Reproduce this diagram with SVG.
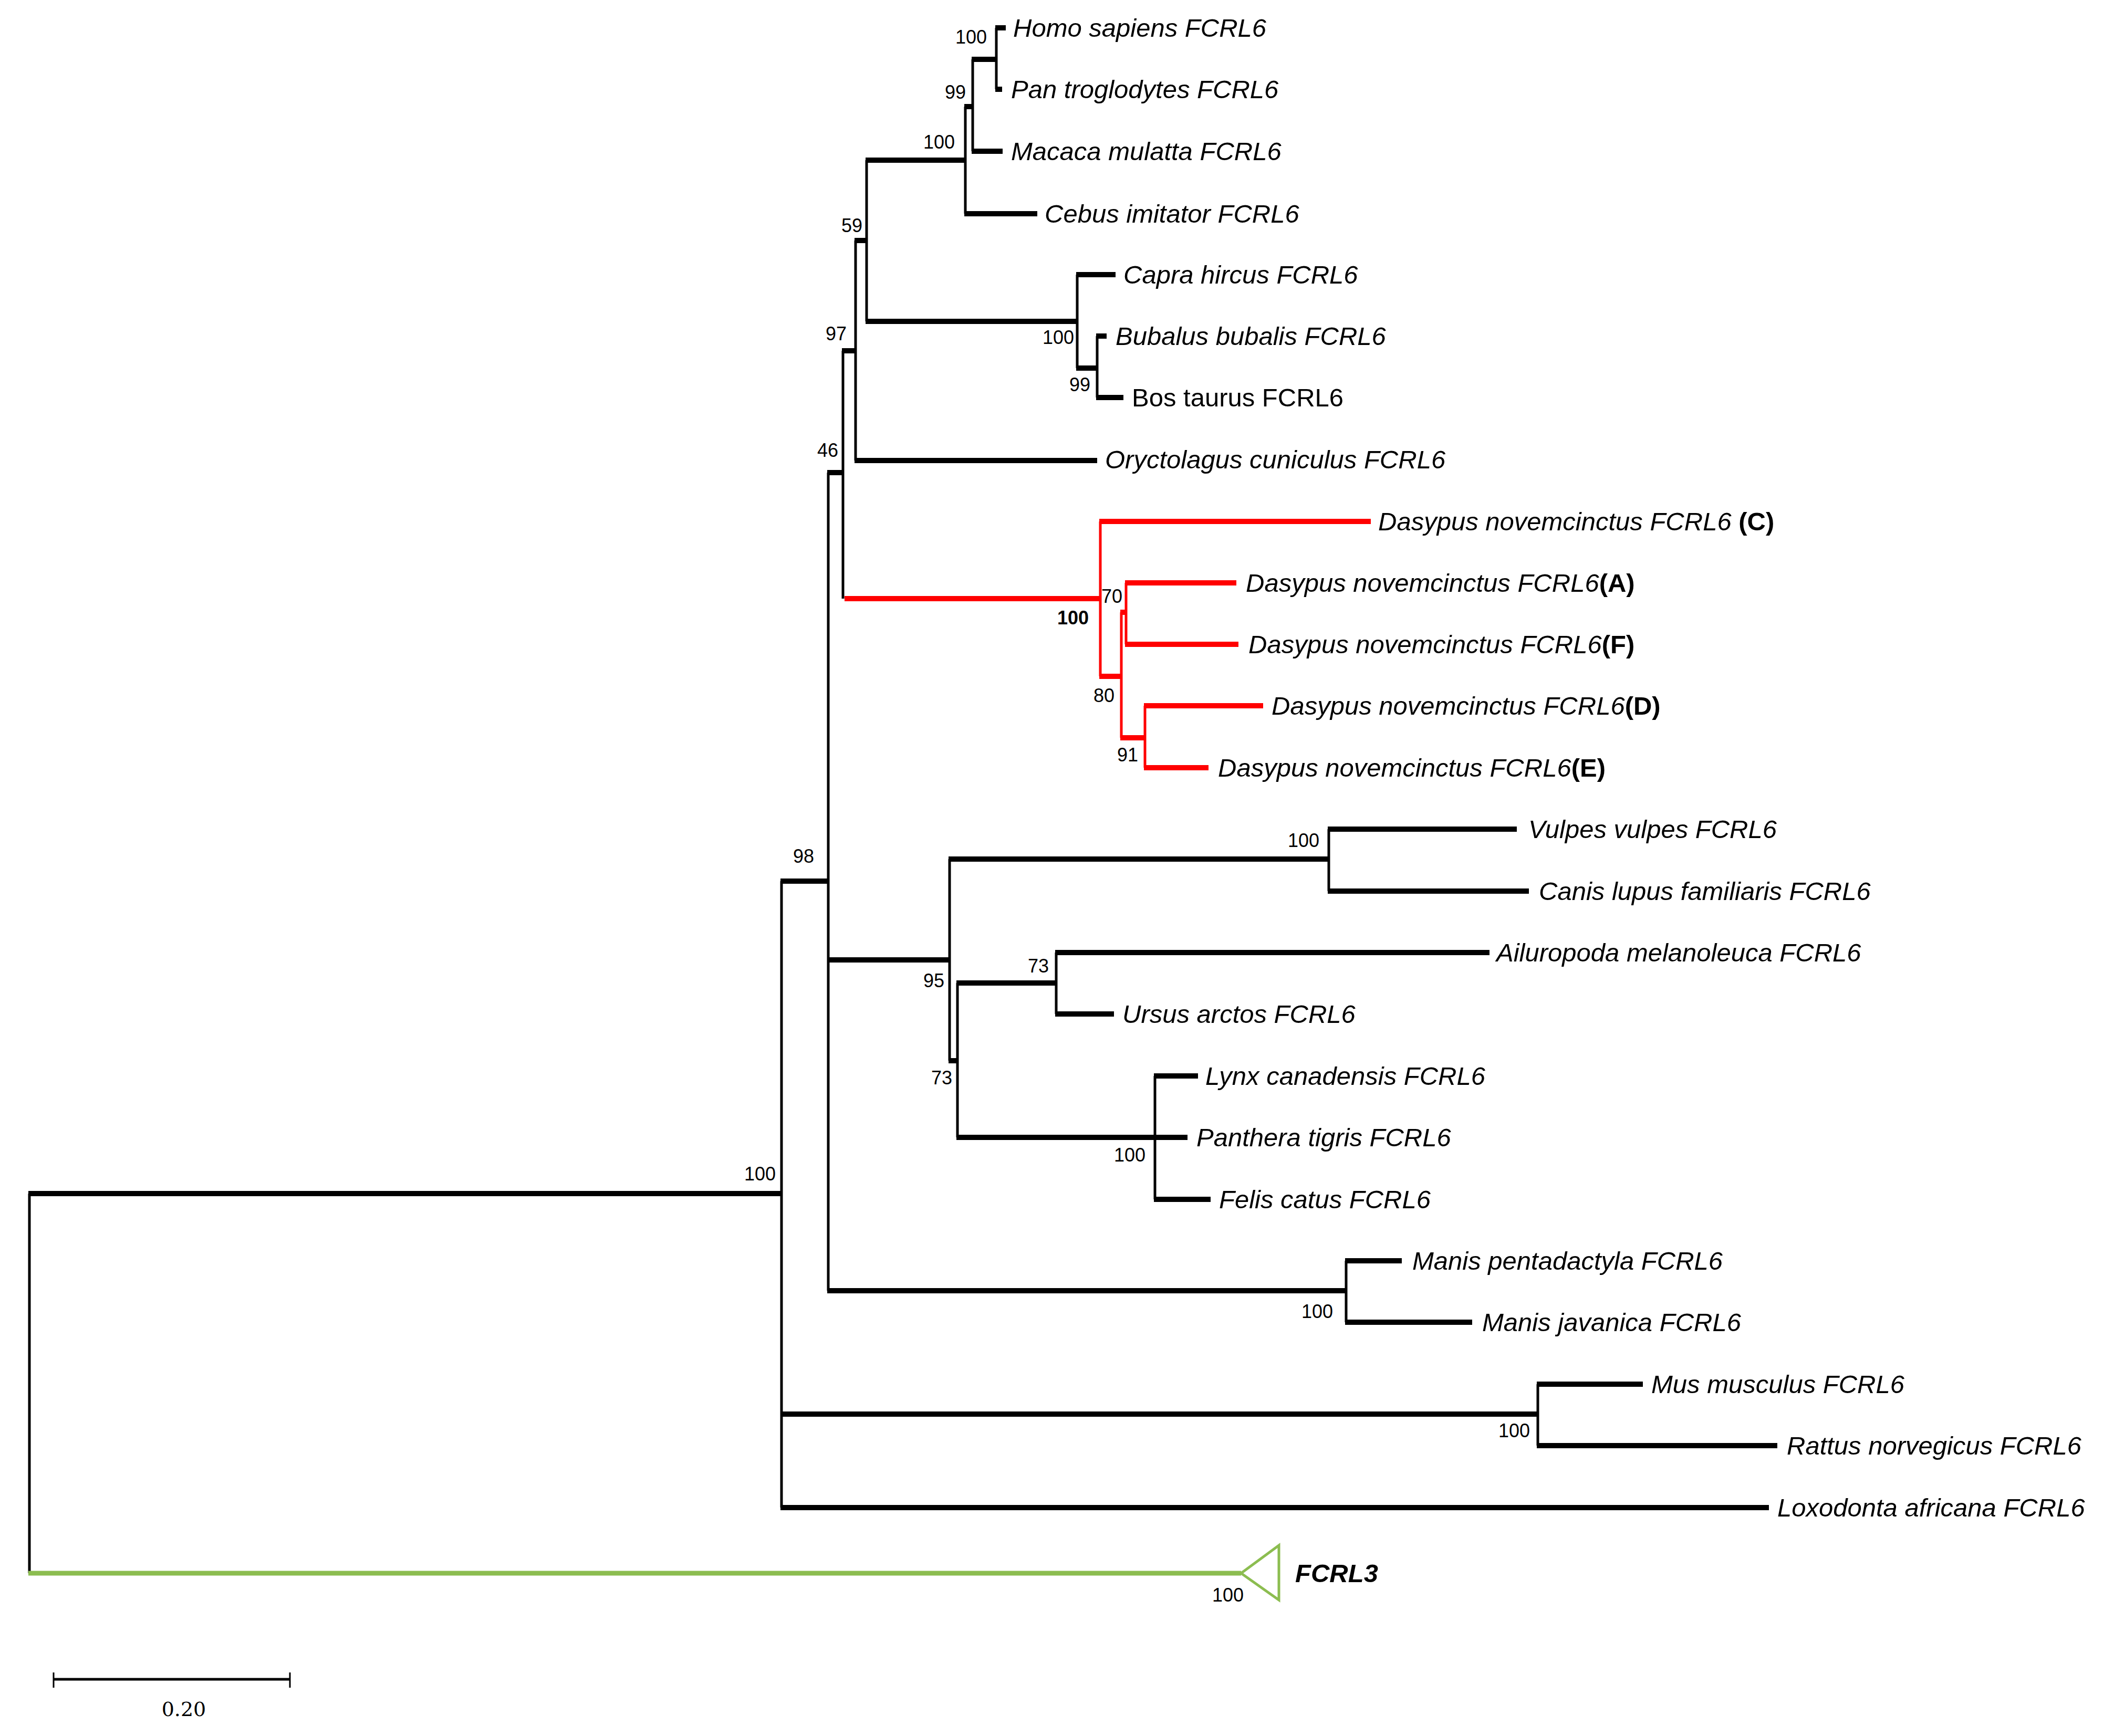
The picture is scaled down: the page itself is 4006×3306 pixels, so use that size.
<svg xmlns="http://www.w3.org/2000/svg" width="4006" height="3306" viewBox="0 0 4006 3306">
<style>
.h{stroke:#000;stroke-width:10;fill:none}
.v{stroke:#000;stroke-width:5;fill:none}
.hr{stroke:#ff0000;stroke-width:10;fill:none}
.vr{stroke:#ff0000;stroke-width:5;fill:none}
.g{stroke:#8cbd50;fill:none}
.tip{font-family:"Liberation Sans",Arial,sans-serif;font-size:49px;font-style:italic;fill:#000}
.up{font-style:normal}
.bs{font-family:"Liberation Sans",Arial,sans-serif;font-size:36px;fill:#000;text-anchor:end}
.b{font-weight:bold;font-style:normal}
</style>
<rect width="4006" height="3306" fill="#fff"/>
<g id="connectors">
<!-- root -->
<path class="v" d="M56 2273V2996"/>
<path class="h" d="M54 2273H1488"/>
<path class="g" stroke-width="9" d="M54 2996H2363"/>
<!-- N1 -->
<path class="v" d="M1488 1678V2871"/>
<path class="h" d="M1486 1678H1577"/>
<path class="h" d="M1486 2693H2928"/>
<path class="h" d="M1486 2871H3368"/>
<!-- node A -->
<path class="v" d="M1577 900V2458"/>
<path class="h" d="M1575 900H1605"/>
<path class="h" d="M1575 1828H1808"/>
<path class="h" d="M1575 2458H2563"/>
<!-- 46 node -->
<path class="v" d="M1605 668V1140"/>
<path class="h" d="M1603 668H1629"/>
<!-- 97 node -->
<path class="v" d="M1629 458V877"/>
<path class="h" d="M1627 458H1650"/>
<path class="h" d="M1627 877H2089"/>
<!-- 59 node -->
<path class="v" d="M1650 305V612"/>
<path class="h" d="M1648 305H1838"/>
<path class="h" d="M1648 612H2051"/>
<!-- primates -->
<path class="v" d="M1838 203V407"/>
<path class="h" d="M1836 203H1852"/>
<path class="h" d="M1836 407H1975"/>
<path class="v" d="M1852 113V288"/>
<path class="h" d="M1850 113H1897"/>
<path class="h" d="M1850 288H1909"/>
<path class="v" d="M1897 53V170"/>
<path class="h" d="M1895 53H1915"/>
<path class="h" d="M1895 170H1908"/>
<!-- bovids -->
<path class="v" d="M2051 523V701"/>
<path class="h" d="M2049 523H2124"/>
<path class="h" d="M2049 701H2089"/>
<path class="v" d="M2089 640V757"/>
<path class="h" d="M2087 640H2107"/>
<path class="h" d="M2087 757H2139"/>
<!-- Dasypus (red) -->
<path class="hr" d="M1608 1140H2095"/>
<path class="vr" d="M2095 993V1288"/>
<path class="hr" d="M2093 993H2610"/>
<path class="hr" d="M2093 1288H2135"/>
<path class="vr" d="M2135 1166V1405"/>
<path class="hr" d="M2133 1166H2144"/>
<path class="hr" d="M2133 1405H2180"/>
<path class="vr" d="M2144 1110V1227"/>
<path class="hr" d="M2142 1110H2354"/>
<path class="hr" d="M2142 1227H2358"/>
<path class="vr" d="M2180 1344V1462"/>
<path class="hr" d="M2178 1344H2405"/>
<path class="hr" d="M2178 1462H2301"/>
<!-- carnivores -->
<path class="v" d="M1808 1636V2020"/>
<path class="h" d="M1806 1636H2530"/>
<path class="h" d="M1806 2020H1823"/>
<path class="v" d="M2530 1579V1697"/>
<path class="h" d="M2528 1579H2888"/>
<path class="h" d="M2528 1697H2911"/>
<path class="v" d="M1823 1872V2166"/>
<path class="h" d="M1821 1872H2011"/>
<path class="h" d="M1821 2166H2261"/>
<path class="v" d="M2011 1814V1931"/>
<path class="h" d="M2009 1814H2836"/>
<path class="h" d="M2009 1931H2121"/>
<path class="v" d="M2199 2049V2284"/>
<path class="h" d="M2197 2049H2281"/>
<path class="h" d="M2197 2284H2305"/>
<!-- Manis -->
<path class="v" d="M2563 2401V2518"/>
<path class="h" d="M2561 2401H2669"/>
<path class="h" d="M2561 2518H2803"/>
<!-- rodents -->
<path class="v" d="M2928 2636V2753"/>
<path class="h" d="M2926 2636H3128"/>
<path class="h" d="M2926 2753H3384"/>
<!-- FCRL3 collapsed triangle -->
<path class="g" stroke-width="5" d="M2363 2996L2435 2943V3047Z"/>
<!-- scale bar -->
<path stroke="#000" stroke-width="5" d="M102 3198H552"/>
<path stroke="#000" stroke-width="3" d="M102 3185V3214M552 3185V3214"/>
</g>
<g id="tips">
<g id="homo"><text class="tip" x="1929" y="70">Homo sapiens FCRL6</text></g>
<g id="pan"><text class="tip" x="1925" y="187">Pan troglodytes FCRL6</text></g>
<g id="macaca"><text class="tip" x="1925" y="305">Macaca mulatta FCRL6</text></g>
<g id="cebus"><text class="tip" x="1989" y="424">Cebus imitator FCRL6</text></g>
<g id="capra"><text class="tip" x="2139" y="540">Capra hircus FCRL6</text></g>
<g id="bubalus"><text class="tip" x="2124" y="657">Bubalus bubalis FCRL6</text></g>
<g id="bos"><text class="tip up" x="2155" y="774">Bos taurus FCRL6</text></g>
<g id="oryctolagus"><text class="tip" x="2104" y="892">Oryctolagus cuniculus FCRL6</text></g>
<g id="dasypusC"><text class="tip" x="2624" y="1010">Dasypus novemcinctus FCRL6 <tspan class="b">(C)</tspan></text></g>
<g id="dasypusA"><text class="tip" x="2372" y="1127">Dasypus novemcinctus FCRL6<tspan class="b">(A)</tspan></text></g>
<g id="dasypusF"><text class="tip" x="2377" y="1244">Dasypus novemcinctus FCRL6<tspan class="b">(F)</tspan></text></g>
<g id="dasypusD"><text class="tip" x="2421" y="1361">Dasypus novemcinctus FCRL6<tspan class="b">(D)</tspan></text></g>
<g id="dasypusE"><text class="tip" x="2319" y="1479">Dasypus novemcinctus FCRL6<tspan class="b">(E)</tspan></text></g>
<g id="vulpes"><text class="tip" x="2910" y="1596">Vulpes vulpes FCRL6</text></g>
<g id="canis"><text class="tip" x="2930" y="1714">Canis lupus familiaris FCRL6</text></g>
<g id="ailuropoda"><text class="tip" x="2849" y="1831">Ailuropoda melanoleuca FCRL6</text></g>
<g id="ursus"><text class="tip" x="2137" y="1948">Ursus arctos FCRL6</text></g>
<g id="lynx"><text class="tip" x="2295" y="2066">Lynx canadensis FCRL6</text></g>
<g id="panthera"><text class="tip" x="2278" y="2183">Panthera tigris FCRL6</text></g>
<g id="felis"><text class="tip" x="2321" y="2301">Felis catus FCRL6</text></g>
<g id="manisP"><text class="tip" x="2689" y="2418">Manis pentadactyla FCRL6</text></g>
<g id="manisJ"><text class="tip" x="2822" y="2535">Manis javanica FCRL6</text></g>
<g id="mus"><text class="tip" x="3144" y="2653">Mus musculus FCRL6</text></g>
<g id="rattus"><text class="tip" x="3402" y="2770">Rattus norvegicus FCRL6</text></g>
<g id="loxodonta"><text class="tip" x="3384" y="2888">Loxodonta africana FCRL6</text></g>
<g id="fcrl3"><text class="tip" font-weight="bold" x="2466" y="3013">FCRL3</text></g>
</g>
<g id="bootstrap">
<text class="bs" x="1879" y="83">100</text>
<text class="bs" x="1839" y="188">99</text>
<text class="bs" x="1818" y="283">100</text>
<text class="bs" x="1642" y="442">59</text>
<text class="bs" x="1612" y="648">97</text>
<text class="bs" x="2045" y="655">100</text>
<text class="bs" x="2076" y="745">99</text>
<text class="bs" x="1596" y="870">46</text>
<text class="bs" x="2137" y="1148">70</text>
<text class="bs" x="2073" y="1189" font-weight="bold">100</text>
<text class="bs" x="2122" y="1337">80</text>
<text class="bs" x="2167" y="1450">91</text>
<text class="bs" x="2512" y="1613">100</text>
<text class="bs" x="1550" y="1643">98</text>
<text class="bs" x="1997" y="1852">73</text>
<text class="bs" x="1798" y="1880">95</text>
<text class="bs" x="1813" y="2065">73</text>
<text class="bs" x="2181" y="2212">100</text>
<text class="bs" x="1477" y="2248">100</text>
<text class="bs" x="2538" y="2510">100</text>
<text class="bs" x="2913" y="2737">100</text>
<text class="bs" x="2368" y="3050">100</text>
</g>
<g id="scale"><text x="350" y="3268" font-family="'DejaVu Serif',serif" font-size="38" text-anchor="middle">0.20</text></g>
</svg>
